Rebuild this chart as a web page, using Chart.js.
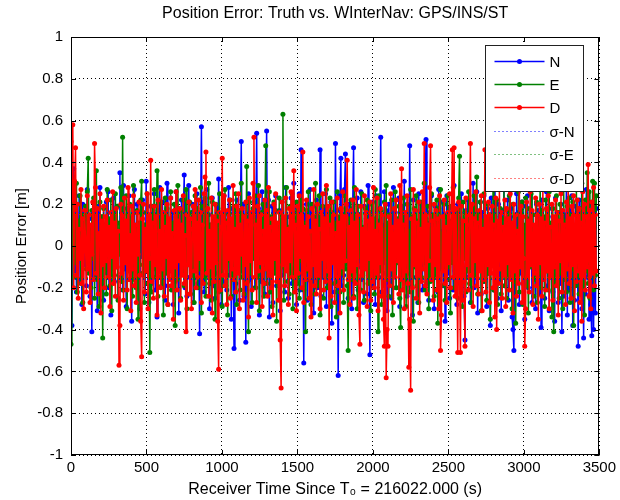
<!DOCTYPE html>
<html>
<head>
<meta charset="utf-8">
<script src="https://cdn.jsdelivr.net/npm/chart.js@4.4.1/dist/chart.umd.min.js"></script>
<style>
  html, body { margin: 0; padding: 0; background: #fff; }
</style>
</head>
<body>
<canvas id="errChart" width="620" height="500"></canvas>
<script>
// SAMPLE SPACING (s) - one sample every 6 s, 0 .. 3480 s
const sampleStep = 6;

// POSITION ERRORS [m] (10 samples = 60 s per row)
const errN = [
  0.40,-0.38,0.05,0.37,-0.12,0.18,-0.22,0.09,-0.05,0.24,
  -0.16,0.11,-0.28,0.20,0.02,-0.09,0.15,-0.19,0.27,-0.07,
  0.13,-0.24,0.08,-0.41,0.17,-0.03,0.22,-0.14,0.06,-0.31,
  0.19,-0.10,0.28,-0.18,0.04,0.14,-0.26,0.10,-0.06,0.21,
  -0.13,0.26,-0.20,0.07,-0.33,0.16,-0.02,0.23,-0.17,0.12,
  -0.08,0.19,-0.25,0.03,0.35,-0.15,0.09,-0.21,0.29,-0.11,
  0.06,-0.29,0.18,-0.04,0.24,-0.16,0.11,-0.36,0.14,-0.07,
  0.27,-0.19,0.02,0.20,-0.12,0.08,-0.30,0.16,-0.05,0.22,
  -0.14,0.10,-0.23,0.31,-0.09,0.15,-0.27,0.05,0.19,-0.18,
  0.12,-0.06,0.25,-0.21,0.08,-0.34,0.17,-0.11,0.28,-0.02,
  -0.15,0.21,-0.08,0.13,-0.26,0.04,0.30,-0.19,0.09,-0.12,
  0.23,-0.05,0.16,-0.28,0.11,-0.17,0.26,-0.09,0.07,-0.32,
  0.18,-0.13,0.22,-0.03,0.14,0.34,-0.20,0.10,-0.24,0.06,
  0.29,-0.15,0.12,-0.07,0.20,-0.27,0.03,0.17,-0.12,0.25,
  -0.18,0.08,-0.42,0.13,0.57,-0.10,0.21,-0.22,0.05,-0.14,
  0.27,-0.08,0.15,-0.30,0.10,-0.04,0.23,-0.19,0.12,-0.25,
  0.07,0.19,-0.13,0.32,-0.06,0.14,-0.28,0.09,-0.17,0.24,
  -0.10,0.16,-0.21,0.04,0.28,-0.14,0.11,-0.35,0.18,-0.05,
  -0.49,0.13,-0.18,0.22,-0.09,0.06,-0.26,0.17,0.50,-0.12,
  0.20,-0.24,0.08,-0.46,0.15,-0.07,0.25,-0.16,0.11,-0.29,
  0.14,-0.03,0.21,-0.20,0.09,0.54,-0.13,0.18,-0.33,0.05,
  -0.17,0.26,-0.08,0.12,-0.23,0.16,0.55,-0.11,0.22,-0.34,
  0.07,-0.15,0.19,-0.27,0.13,-0.05,0.24,-0.19,0.10,-0.09,
  0.17,-0.31,0.06,0.21,-0.14,0.11,-0.22,0.28,-0.06,0.14,
  -0.25,0.09,-0.12,0.23,-0.18,0.04,0.30,-0.16,0.13,-0.28,
  0.18,-0.07,0.25,-0.21,0.46,-0.13,0.08,-0.56,0.15,-0.04,
  0.20,-0.26,0.11,-0.10,0.27,-0.17,0.06,0.19,-0.32,0.12,
  -0.08,0.22,-0.20,0.14,-0.13,0.46,-0.24,0.09,-0.15,0.18,
  -0.03,0.25,-0.29,0.11,-0.18,0.16,-0.07,0.21,-0.37,0.08,
  0.13,-0.22,0.49,-0.11,0.17,-0.62,0.06,0.24,0.42,-0.19,
  0.10,-0.14,0.27,0.44,-0.08,0.15,-0.25,0.20,-0.12,0.07,
  -0.30,0.18,0.47,-0.17,0.11,-0.06,0.23,-0.21,0.14,-0.10,
  0.26,-0.16,0.08,-0.27,0.19,-0.04,0.13,-0.23,0.29,-0.09,
  -0.52,0.16,-0.12,0.21,-0.19,0.07,-0.28,0.24,-0.06,0.12,
  -0.15,0.18,0.52,-0.22,0.10,-0.13,0.26,-0.08,0.17,-0.31,
  0.05,0.20,-0.18,0.13,-0.25,0.09,0.28,-0.11,0.16,-0.20,
  0.11,-0.07,0.23,-0.29,0.14,-0.14,0.19,-0.04,0.31,-0.17,
  0.08,-0.24,0.15,-0.10,0.48,-0.19,0.12,-0.33,0.22,-0.06,
  0.17,-0.15,0.09,-0.27,0.25,-0.12,0.06,0.20,-0.21,0.14,
  -0.08,0.28,0.51,-0.18,0.11,-0.26,0.16,-0.05,0.24,-0.14,
  0.10,-0.30,0.19,-0.09,0.13,-0.22,0.27,-0.16,0.07,-0.11,
  0.21,-0.19,0.15,-0.36,0.09,0.24,-0.13,0.18,-0.25,0.05,
  -0.07,0.16,-0.21,0.29,-0.12,0.11,-0.28,0.20,-0.04,0.13,
  -0.18,0.25,-0.10,0.08,-0.24,-0.45,0.17,-0.15,0.22,-0.06,
  0.14,-0.27,0.19,-0.11,0.30,-0.20,0.09,-0.14,0.26,-0.32,
  0.12,-0.08,0.21,-0.23,0.16,-0.05,0.24,-0.17,0.10,-0.29,
  0.18,-0.13,0.07,-0.38,0.23,-0.09,0.15,-0.21,0.33,-0.12,
  0.06,-0.25,0.20,-0.16,0.11,-0.31,0.17,-0.07,0.27,-0.19,
  0.13,-0.10,0.22,-0.26,0.08,-0.15,0.18,-0.34,-0.40,-0.50,
  0.14,-0.22,0.25,-0.08,0.16,-0.28,0.10,-0.13,0.21,-0.18,
  0.07,-0.35,0.19,-0.11,0.24,-0.20,0.12,-0.06,0.28,-0.27,
  0.15,-0.14,0.09,-0.30,0.20,-0.09,0.17,-0.23,0.11,-0.39,
  0.22,-0.16,0.13,-0.25,0.06,0.26,-0.19,0.14,-0.31,0.10,
  -0.12,0.18,-0.22,0.09,-0.36,0.23,-0.08,0.16,-0.27,0.12,
  -0.18,0.20,-0.41,0.07,-0.24,0.15,-0.11,0.29,-0.33,0.13,
  -0.21,0.17,-0.14,0.24,-0.38,0.10,-0.26,0.19,-0.09,0.14,
  -0.48,0.22,-0.17,0.11,-0.30,0.18,-0.44,0.08,-0.23,0.27,
  -0.15,0.12,-0.35,0.20,-0.28,-0.43,0.16,-0.40,0.09,-0.32,
  0.18
];
const errE = [
  -0.47,0.10,0.28,-0.15,0.20,-0.08,0.30,-0.22,0.12,-0.05,
  0.24,-0.18,0.07,-0.27,0.15,-0.02,0.19,-0.11,0.26,0.42,
  -0.13,0.09,-0.20,0.17,-0.06,0.23,-0.25,0.11,0.36,-0.16,
  0.05,-0.29,0.21,-0.09,0.14,-0.44,0.18,-0.12,0.08,-0.23,
  0.27,-0.07,0.13,-0.19,0.22,-0.31,0.06,0.16,-0.14,0.25,
  -0.10,0.19,-0.26,0.11,-0.04,0.28,-0.17,0.52,-0.21,0.09,
  -0.08,0.24,-0.30,0.15,-0.12,0.20,-0.05,0.13,-0.24,0.29,
  -0.16,0.07,-0.20,0.17,-0.35,0.11,-0.09,0.22,0.31,-0.13,
  0.16,-0.27,0.10,-0.06,0.25,-0.18,0.14,-0.51,0.08,-0.22,
  0.19,-0.11,0.27,-0.15,0.05,0.36,-0.24,0.12,-0.08,0.21,
  -0.19,0.15,-0.33,0.09,0.23,-0.13,0.18,-0.28,0.06,-0.04,
  0.26,-0.21,0.11,-0.10,0.20,-0.38,0.14,-0.16,0.29,-0.07,
  0.08,-0.25,0.17,-0.12,0.22,-0.19,0.05,0.27,-0.30,0.13,
  -0.09,0.21,-0.23,0.16,-0.14,0.10,-0.27,0.24,-0.06,0.18,
  -0.20,0.12,-0.11,0.28,-0.32,0.07,0.19,-0.15,0.23,-0.24,
  0.15,-0.08,0.30,-0.18,0.10,-0.26,0.21,-0.12,0.13,-0.35,
  0.20,-0.05,0.16,-0.22,0.25,-0.14,0.08,-0.29,0.18,-0.10,
  0.27,-0.19,0.12,-0.33,0.15,-0.07,0.22,-0.24,0.09,-0.16,
  0.19,-0.12,0.25,-0.28,0.11,-0.04,0.17,-0.21,0.30,-0.15,
  0.06,-0.23,0.14,-0.09,0.38,-0.17,-0.41,0.21,-0.13,0.10,
  -0.27,0.18,-0.06,0.24,-0.20,0.12,-0.15,0.29,-0.31,0.07,
  0.16,-0.11,0.20,-0.24,0.13,0.48,-0.18,0.09,-0.07,0.26,
  -0.22,0.14,-0.29,0.05,0.21,-0.13,0.17,-0.36,0.10,-0.08,
  0.23,-0.19,0.15,-0.10,0.63,-0.26,0.12,-0.05,0.28,-0.17,
  0.09,-0.23,0.19,-0.14,0.25,-0.30,0.07,0.16,-0.11,0.21,
  -0.18,0.13,-0.25,0.08,0.22,-0.07,0.18,-0.21,0.11,-0.41,
  0.17,-0.12,0.26,-0.16,0.06,-0.28,0.20,-0.09,0.14,-0.23,
  0.30,-0.14,0.10,-0.19,0.24,-0.33,0.15,-0.06,0.19,-0.25,
  0.12,-0.10,0.27,-0.20,0.08,-0.15,0.23,-0.29,0.16,-0.04,
  0.21,-0.18,0.11,-0.34,0.26,-0.09,0.14,-0.22,0.18,-0.13,
  0.07,-0.27,0.24,-0.11,0.17,-0.19,-0.50,0.13,-0.08,0.22,
  -0.16,0.10,-0.24,0.28,-0.12,0.15,-0.30,0.19,-0.05,0.12,
  -0.21,0.25,-0.14,0.09,-0.26,0.18,-0.10,0.22,-0.18,0.06,
  0.16,-0.31,0.20,-0.07,0.13,-0.23,0.27,-0.15,0.10,-0.41,
  0.24,-0.12,0.17,-0.28,0.08,-0.19,0.21,-0.06,0.29,-0.16,
  0.11,-0.24,0.15,-0.09,0.22,-0.33,0.06,-0.14,0.26,-0.20,
  0.13,-0.08,0.19,-0.25,-0.39,0.16,-0.11,0.23,-0.17,0.10,
  -0.29,0.20,-0.13,0.07,-0.22,0.27,-0.05,0.14,-0.36,0.18,
  -0.10,0.24,-0.19,0.12,-0.27,0.09,0.21,-0.15,0.17,-0.06,
  0.30,-0.21,0.13,-0.12,0.19,-0.30,0.08,-0.17,0.25,-0.09,
  0.15,-0.24,0.11,-0.14,0.22,-0.37,0.18,-0.07,0.27,-0.19,
  0.06,-0.11,0.20,-0.26,0.14,-0.16,0.24,-0.10,0.12,-0.32,
  0.19,-0.08,0.28,-0.20,0.10,-0.13,0.17,-0.25,0.23,0.43,
  -0.15,0.09,-0.29,0.21,-0.06,0.16,-0.22,0.13,-0.12,0.26,
  -0.18,0.11,-0.27,0.19,-0.09,0.24,-0.14,0.07,0.33,-0.23,
  0.16,-0.05,0.21,-0.31,0.12,-0.17,0.25,-0.11,0.08,-0.26,
  0.20,-0.13,0.15,-0.35,0.09,-0.08,0.27,-0.21,0.14,-0.16,
  0.22,-0.28,0.10,-0.06,0.18,-0.23,0.13,-0.12,0.29,-0.19,
  0.07,-0.25,0.17,-0.14,0.24,-0.09,0.11,-0.30,0.20,-0.17,
  0.14,-0.37,0.08,-0.11,0.26,-0.22,0.16,-0.07,0.21,-0.28,
  0.10,-0.15,0.23,-0.19,0.13,-0.32,0.18,-0.10,0.25,-0.06,
  0.15,-0.24,0.09,-0.16,0.21,-0.27,0.12,-0.13,0.30,-0.20,
  0.17,-0.09,0.14,-0.29,0.22,-0.12,0.07,-0.21,0.26,-0.15,
  0.11,-0.34,0.18,-0.41,0.13,-0.18,0.24,-0.08,0.16,-0.25,
  0.20,-0.13,0.10,-0.30,0.27,-0.16,0.12,-0.22,0.19,-0.06,
  0.23,-0.27,0.15,-0.11,0.21,-0.38,0.08,-0.19,0.28,-0.14,
  0.12,-0.23,0.18,-0.09,0.30,-0.20,0.14,-0.33,0.22,-0.12,
  0.35,-0.18,0.26,-0.25,0.16,-0.10,0.31,-0.21,0.30,-0.14,
  0.24
];
const errD = [
  0.50,0.22,0.58,-0.20,0.31,0.47,-0.14,0.20,-0.25,0.08,
  -0.06,0.27,-0.18,0.13,-0.30,0.17,0.03,-0.22,0.24,-0.11,
  0.15,-0.27,0.10,-0.04,0.21,-0.16,0.49,0.28,-0.13,0.18,
  -0.23,0.06,0.25,-0.32,0.12,-0.09,0.19,-0.20,0.14,-0.07,
  0.22,-0.15,0.09,-0.29,0.16,-0.05,0.26,-0.18,0.11,-0.24,
  0.18,-0.10,0.07,-0.57,-0.38,0.20,-0.13,0.15,-0.26,0.23,
  -0.08,0.12,-0.21,0.28,-0.16,0.05,-0.31,0.19,-0.11,0.24,
  -0.19,0.10,-0.27,0.16,-0.04,0.21,-0.14,-0.36,-0.53,0.13,
  0.20,-0.22,0.08,-0.12,0.25,-0.30,0.15,-0.06,0.41,-0.17,
  0.11,-0.25,0.19,-0.09,0.14,-0.33,0.22,-0.15,0.07,-0.20,
  0.27,-0.11,0.16,-0.24,0.09,-0.05,0.20,-0.28,0.13,-0.16,
  0.23,-0.19,0.06,-0.35,0.17,-0.10,0.26,-0.21,0.12,-0.07,
  0.18,-0.26,0.10,-0.14,0.24,-0.18,0.05,-0.41,0.15,-0.09,
  0.21,-0.23,0.13,-0.30,0.08,0.19,-0.12,0.27,-0.20,0.11,
  -0.15,0.22,-0.06,0.16,-0.27,0.10,-0.18,0.25,0.33,0.45,
  -0.13,0.18,-0.24,0.07,-0.10,0.23,-0.32,0.14,-0.17,0.20,
  -0.08,0.12,-0.36,-0.59,0.16,-0.21,0.09,0.42,-0.14,0.24,
  -0.19,0.11,-0.28,0.17,-0.06,0.22,-0.25,0.13,-0.11,0.29,
  -0.16,0.08,-0.22,0.19,-0.13,0.25,-0.30,0.10,-0.04,0.18,
  -0.26,0.14,-0.09,0.21,-0.18,0.12,-0.34,0.23,-0.07,0.16,
  -0.21,0.30,0.52,-0.15,0.10,-0.27,0.19,-0.12,0.24,-0.08,
  0.15,-0.29,0.07,-0.18,0.22,-0.11,0.17,-0.24,0.28,-0.14,
  0.09,-0.20,0.13,-0.33,0.20,-0.06,0.25,-0.17,0.11,-0.26,
  0.16,-0.45,-0.68,0.21,-0.09,0.14,-0.19,0.23,-0.12,0.08,
  -0.28,0.18,-0.07,0.26,-0.15,0.12,0.36,-0.22,0.10,-0.31,
  0.19,-0.13,0.24,-0.05,0.15,-0.20,0.45,-0.27,0.09,-0.16,
  0.22,-0.11,0.14,-0.25,0.07,-0.34,0.18,-0.09,0.27,-0.19,
  0.12,-0.23,0.20,-0.14,0.08,-0.30,0.16,-0.06,0.25,-0.21,
  0.13,-0.17,0.29,-0.12,0.19,-0.44,0.10,-0.24,0.21,-0.08,
  0.15,-0.27,0.06,-0.15,0.23,-0.19,0.11,-0.32,0.18,-0.10,
  0.26,-0.21,0.14,-0.07,0.20,0.41,-0.16,0.09,-0.28,0.17,
  -0.12,0.22,-0.25,0.11,-0.18,0.27,-0.09,0.15,-0.33,-0.47,
  0.19,-0.14,0.08,-0.22,0.24,-0.11,0.16,-0.29,0.12,-0.06,
  0.21,-0.26,0.13,-0.17,0.28,-0.20,0.07,-0.13,0.23,-0.31,
  0.10,-0.08,0.18,-0.24,0.15,-0.35,-0.48,0.20,-0.63,-0.40,
  -0.48,0.14,-0.19,0.25,-0.11,0.09,-0.27,0.18,-0.15,0.22,
  -0.07,0.12,-0.23,0.29,-0.16,0.37,-0.21,0.10,-0.30,0.16,
  -0.12,0.24,-0.18,-0.58,-0.35,-0.69,0.13,-0.20,0.27,-0.09,
  0.17,-0.25,0.11,-0.14,0.21,-0.32,0.08,-0.17,0.26,-0.11,
  0.49,-0.19,0.15,-0.23,0.10,-0.07,0.28,0.48,-0.16,0.12,
  -0.26,0.20,-0.09,0.17,-0.21,0.13,-0.30,0.24,-0.50,-0.33,
  0.14,-0.12,0.22,-0.18,0.09,-0.27,0.16,-0.08,0.25,-0.20,
  0.11,0.46,-0.15,0.47,-0.24,0.18,-0.10,-0.51,0.21,-0.13,
  -0.51,0.19,-0.26,0.12,-0.17,-0.48,0.23,-0.09,0.15,-0.21,
  0.10,0.49,-0.14,0.20,-0.29,0.13,-0.07,0.26,-0.19,0.11,
  -0.23,0.17,-0.12,0.24,-0.31,0.08,-0.16,0.46,-0.22,0.14,
  -0.09,0.21,-0.27,0.15,-0.13,0.19,-0.20,0.10,-0.34,0.23,
  -0.40,0.12,-0.18,0.27,-0.11,0.16,-0.25,0.09,-0.14,0.22,
  -0.29,0.18,-0.08,0.13,-0.21,0.25,-0.16,0.11,-0.32,0.20,
  -0.12,0.15,-0.24,0.07,-0.18,0.28,-0.10,0.19,-0.27,0.14,
  -0.06,-0.48,-0.30,0.21,-0.15,0.12,-0.22,0.26,-0.09,0.17,
  -0.28,0.10,-0.13,0.23,-0.19,0.15,-0.35,0.20,-0.08,0.13,
  -0.24,0.27,-0.16,0.11,-0.21,0.18,-0.12,0.24,-0.30,0.09,
  -0.15,0.20,-0.26,0.14,-0.10,0.22,-0.19,0.16,-0.33,0.12,
  -0.07,0.25,-0.22,0.17,-0.14,0.10,-0.28,0.21,-0.11,0.29,
  -0.18,0.13,-0.25,0.19,-0.09,0.24,-0.31,0.15,-0.17,0.22,
  -0.12,0.18,-0.27,0.11,-0.36,0.26,-0.15,0.20,-0.21,0.14,
  -0.10,0.39,-0.24,0.17,-0.30,0.21,-0.13,0.28,-0.19,0.15,
  -0.12
];

// 1-SIGMA BOUNDS [m]
const sigmaTimes = [0, 3480];
const sigmaN = [0.16, 0.16];
const sigmaE = [0.155, 0.155];
const sigmaD = [0.15, 0.15];

// AXES
const xTicks = [0, 500, 1000, 1500, 2000, 2500, 3000, 3500];
const yTicks = [-1, -0.8, -0.6, -0.4, -0.2, 0, 0.2, 0.4, 0.6, 0.8, 1];
const titleText = 'Position Error: Truth vs. WInterNav: GPS/INS/ST';

const FONT = '"Liberation Sans", Arial, Helvetica, sans-serif';
const BLUE = '#0000ff', GREEN = '#008000', RED = '#ff0000';

function toPoints(values) {
  return values.map((v, i) => ({ x: i * sampleStep, y: v }));
}
function sigmaPoints(values, sign) {
  return values.map((v, i) => ({ x: sigmaTimes[i], y: sign * v }));
}

function errSet(label, values, color, order) {
  return {
    label, data: toPoints(values), borderColor: color, backgroundColor: color,
    borderWidth: 1.5, pointRadius: 2.5, pointBorderWidth: 0, pointHoverRadius: 0,
    order, inLegend: true, marker: true
  };
}
function sigmaSet(label, values, sign, color) {
  return {
    label, data: sigmaPoints(values, sign), borderColor: color, backgroundColor: color,
    borderWidth: 1, borderDash: [1, 3], pointRadius: 0, order: 0,
    inLegend: sign > 0, marker: false
  };
}

// TITLE, FRAME, INWARD TICKS, LEGEND (matlab style)
const matlabFrame = {
  id: 'matlabFrame',
  afterDatasetsDraw(chart) {
    const { ctx, chartArea: a, scales: { x, y } } = chart;
    ctx.save();
    ctx.strokeStyle = '#000';
    ctx.lineWidth = 1;
    ctx.setLineDash([]);
    ctx.beginPath();
    xTicks.forEach(v => {
      const px = Math.round(x.getPixelForValue(v)) + 0.5;
      ctx.moveTo(px, a.bottom); ctx.lineTo(px, a.bottom - 5);
      ctx.moveTo(px, a.top); ctx.lineTo(px, a.top + 5);
    });
    yTicks.forEach(v => {
      const py = Math.round(y.getPixelForValue(v)) + 0.5;
      ctx.moveTo(a.left, py); ctx.lineTo(a.left + 5, py);
      ctx.moveTo(a.right, py); ctx.lineTo(a.right - 5, py);
    });
    ctx.stroke();
    ctx.strokeRect(Math.round(a.left) + 0.5, Math.round(a.top) + 0.5,
      Math.round(a.width) - 1, Math.round(a.height) - 1);

    // title, centred over the axes
    ctx.fillStyle = '#000';
    ctx.font = '16px ' + FONT;
    ctx.textAlign = 'center';
    ctx.textBaseline = 'middle';
    ctx.fillText(titleText, (a.left + a.right) / 2, 14);

    // legend box
    const bx = Math.round(a.right) - 113.5, by = Math.round(a.top) + 8.5;
    const bw = 98, bh = 146;
    ctx.fillStyle = '#fff';
    ctx.fillRect(bx, by, bw, bh);
    ctx.strokeStyle = '#222';
    ctx.strokeRect(bx, by, bw, bh);
    const items = chart.data.datasets.filter(d => d.inLegend);
    ctx.font = '15px ' + FONT;
    ctx.textAlign = 'left';
    items.forEach((d, i) => {
      const ly = Math.round(by + 15 + i * 23.4) + 0.5;
      ctx.strokeStyle = d.borderColor;
      ctx.lineWidth = d.marker ? 1.5 : 1;
      ctx.setLineDash(d.borderDash || []);
      ctx.beginPath();
      ctx.moveTo(bx + 9, ly); ctx.lineTo(bx + 59, ly);
      ctx.stroke();
      ctx.setLineDash([]);
      if (d.marker) {
        ctx.fillStyle = d.borderColor;
        ctx.beginPath();
        ctx.arc(bx + 34, ly, 2.5, 0, Math.PI * 2);
        ctx.fill();
      }
      ctx.fillStyle = '#000';
      ctx.fillText(d.label, bx + 64, ly + 1);
    });
    ctx.restore();
  }
};

Chart.defaults.font.family = FONT;
Chart.defaults.color = '#000';

new Chart(document.getElementById('errChart'), {
  type: 'line',
  data: {
    datasets: [
      errSet('N', errN, BLUE, 3),
      errSet('E', errE, GREEN, 2),
      errSet('D', errD, RED, 1),
      sigmaSet('σ-N', sigmaN, 1, BLUE),
      sigmaSet('σ-E', sigmaE, 1, GREEN),
      sigmaSet('σ-D', sigmaD, 1, RED),
      sigmaSet('-σ-N', sigmaN, -1, BLUE),
      sigmaSet('-σ-E', sigmaE, -1, GREEN),
      sigmaSet('-σ-D', sigmaD, -1, RED)
    ]
  },
  options: {
    responsive: false,
    animation: false,
    devicePixelRatio: 1,
    layout: { padding: { left: 0, right: 17, top: 37, bottom: 0 } },
    plugins: {
      legend: { display: false },
      tooltip: { enabled: false },
      title: { display: false }
    },
    scales: {
      x: {
        type: 'linear', min: 0, max: 3500,
        afterFit: s => { s.height = 45; },
        afterBuildTicks: s => { s.ticks = xTicks.map(v => ({ value: v })); },
        ticks: { font: { size: 15 }, padding: 4, maxRotation: 0, callback: v => String(v) },
        grid: { color: '#000', lineWidth: 1, drawTicks: false },
        border: { display: false, dash: [1, 3] },
        title: {
          display: true, text: 'Receiver Time Since T₀ = 216022.000 (s)',
          font: { size: 16 }, padding: { top: 1, bottom: 1 }
        }
      },
      y: {
        type: 'linear', min: -1, max: 1,
        afterFit: s => { s.width = 71; },
        afterBuildTicks: s => { s.ticks = yTicks.map(v => ({ value: v })); },
        ticks: { font: { size: 15 }, padding: 8, callback: v => String(Math.round(v * 10) / 10) },
        grid: { color: '#000', lineWidth: 1, drawTicks: false },
        border: { display: false, dash: [1, 3] },
        title: {
          display: true, text: 'Position Error [m]',
          font: { size: 15 }, padding: { top: 13, bottom: 13 }
        }
      }
    }
  },
  plugins: [matlabFrame]
});
</script>
</body>
</html>
